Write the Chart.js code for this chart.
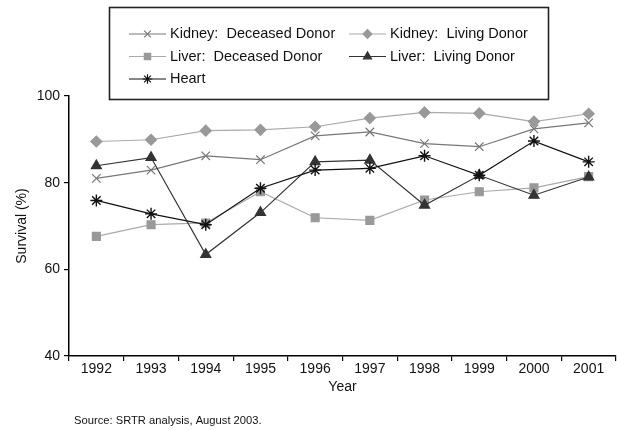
<!DOCTYPE html>
<html>
<head>
<meta charset="utf-8">
<script src="https://cdn.jsdelivr.net/npm/chart.js@4.4.0/dist/chart.umd.min.js"></script>
<style>
  html, body { margin: 0; padding: 0; background: #fff; }
  #wrap { position: relative; width: 617px; height: 430px; }
</style>
</head>
<body>
<div id="wrap"><canvas id="c" width="617" height="430"></canvas></div>
<script>
const years = ['1992','1993','1994','1995','1996','1997','1998','1999','2000','2001'];
const yTicks = [40, 60, 80, 100];
const kidneyDeceased = [81.0, 82.9, 86.2, 85.3, 90.8, 91.7, 89.0, 88.3, 92.4, 93.8];
const kidneyLiving   = [89.5, 89.9, 92.0, 92.2, 92.9, 94.9, 96.2, 96.0, 94.1, 95.9];
const liverDeceased  = [67.6, 70.3, 70.7, 77.9, 71.9, 71.3, 76.0, 77.9, 78.8, 81.4];
const liverLiving    = [83.9, 85.8, 63.4, 73.1, 84.8, 85.2, 74.8, 81.7, 77.1, 81.3];
const heart          = [75.9, 72.8, 70.3, 78.7, 82.9, 83.3, 86.2, 81.7, 89.6, 84.8];
const sourceNote = 'Source: SRTR analysis, August 2003.';

const FONT = 'Liberation Sans, Arial, Helvetica, sans-serif';

function ds(label, data, color, lineColor, style, radius, fill, pbw) {
  return {
    label, data,
    borderColor: lineColor,
    borderWidth: 1.2,
    pointStyle: style,
    pointRadius: radius,
    pointHoverRadius: radius,
    pointBackgroundColor: fill,
    pointBorderColor: color,
    pointBorderWidth: pbw,
    tension: 0,
    fill: false
  };
}

const datasets = [
  ds('Heart', heart, '#111', '#111', 'star', 6, '#111', 1.4),
  ds('Liver:  Living Donor', liverLiving, '#333', '#333', 'triangle', 5.8, '#333', 1.2),
  ds('Kidney:  Deceased Donor', kidneyDeceased, '#777', '#777', 'crossRot', 6, '#777', 1.2),
  ds('Liver:  Deceased Donor', liverDeceased, '#999', '#aaa', 'rect', 5.6, '#999', 1.2),
  ds('Kidney:  Living Donor', kidneyLiving, '#999', '#aaa', 'rectRot', 5.5, '#999', 1.2)
];

// legend layout: [label, column, row]
const legendLayout = [
  ['Kidney:  Deceased Donor', 0, 0],
  ['Kidney:  Living Donor', 1, 0],
  ['Liver:  Deceased Donor', 0, 1],
  ['Liver:  Living Donor', 1, 1],
  ['Heart', 0, 2]
];

const boxLegend = {
  id: 'boxLegend',
  afterDraw(chart) {
    const ctx = chart.ctx;
    ctx.save();
    ctx.strokeStyle = '#222';
    ctx.lineWidth = 1.6;
    ctx.strokeRect(109.5, 7.5, 439, 92);
    const colX = [129, 349];
    const rowY = [34, 56.5, 79];
    legendLayout.forEach(([label, col, row]) => {
      const d = chart.data.datasets.find(x => x.label === label);
      const x0 = colX[col], x1 = x0 + 37, y = rowY[row];
      ctx.strokeStyle = d.borderColor;
      ctx.lineWidth = 1.2;
      ctx.beginPath();
      ctx.moveTo(x0, y); ctx.lineTo(x1, y);
      ctx.stroke();
      ctx.fillStyle = d.pointBackgroundColor;
      ctx.strokeStyle = d.pointBorderColor;
      ctx.lineWidth = 1.2;
      Chart.helpers.drawPoint(ctx, { pointStyle: d.pointStyle, radius: d.pointRadius * 0.8, borderWidth: 1.2, rotation: 0 }, (x0 + x1) / 2, y);
      ctx.fillStyle = '#111';
      ctx.font = '14.5px ' + FONT;
      ctx.textBaseline = 'middle';
      ctx.textAlign = 'left';
      ctx.fillText(label, x1 + 4, y);
    });
    ctx.font = '11.2px ' + FONT;
    ctx.fillStyle = '#111';
    ctx.textBaseline = 'middle';
    ctx.fillText(sourceNote, 74, 421);
    ctx.restore();
  }
};

new Chart(document.getElementById('c'), {
  type: 'line',
  data: { labels: years, datasets },
  options: {
    responsive: false,
    animation: false,
    devicePixelRatio: 1,
    layout: { autoPadding: false, padding: { top: 96, left: 0, right: 1, bottom: 34 } },
    plugins: { legend: { display: false }, tooltip: { enabled: false } },
    scales: {
      x: {
        type: 'category',
        offset: true,
        grid: { offset: true, drawOnChartArea: false, drawTicks: true, tickLength: 5, color: '#000', lineWidth: 1.2 },
        border: { color: '#000', width: 1.5 },
        ticks: { color: '#111', font: { family: FONT, size: 14 }, padding: 0, maxRotation: 0, autoSkip: false },
        title: { display: true, text: 'Year', color: '#111', font: { family: FONT, size: 14 }, padding: 0 },
        afterFit(s) { s.height = 40; }
      },
      y: {
        min: 40, max: 100,
        afterBuildTicks(s) { s.ticks = yTicks.map(v => ({ value: v })); },
        grid: { drawOnChartArea: false, drawTicks: true, tickLength: 5, color: '#000', lineWidth: 1.2 },
        border: { color: '#000', width: 1.5 },
        ticks: { color: '#111', font: { family: FONT, size: 14 }, padding: 4 },
        title: { display: true, text: 'Survival (%)', color: '#111', font: { family: FONT, size: 14 }, padding: { top: 14, bottom: 0 } },
        afterFit(s) { s.width = 69; }
      }
    }
  },
  plugins: [boxLegend]
});
</script>
</body>
</html>
